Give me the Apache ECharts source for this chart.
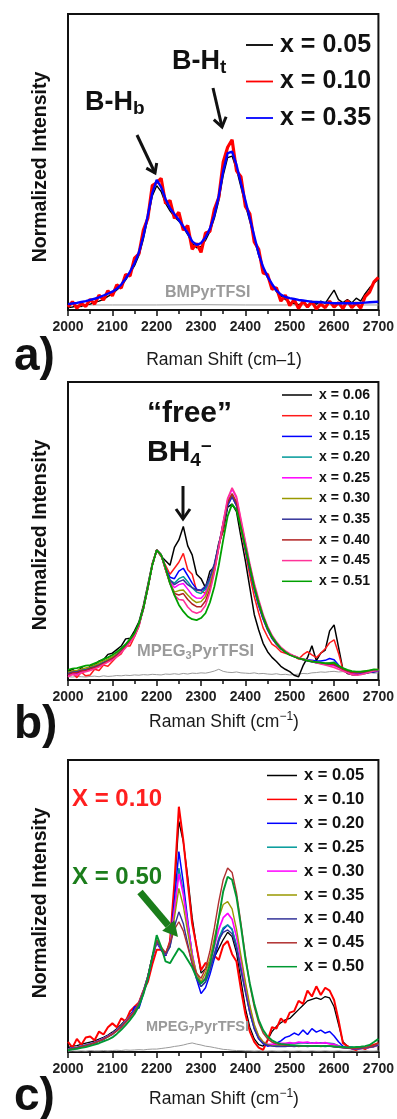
<!DOCTYPE html>
<html>
<head>
<meta charset="utf-8">
<script src="https://cdn.jsdelivr.net/npm/echarts@6/dist/echarts.min.js"></script>
<style>
  html, body { margin: 0; padding: 0; background: #fff; }
  #chart { width: 397px; height: 1119px; }
</style>
</head>
<body>
<div id="chart"></div>
<script>
// Raman shift grid (cm^-1), shared by every spectrum
const shift = [
  2000, 2010, 2020, 2030, 2040, 2050, 2060, 2070, 2080, 2090,
  2100, 2110, 2120, 2130, 2140, 2150, 2160, 2170, 2180, 2190,
  2200, 2210, 2220, 2230, 2240, 2250, 2260, 2270, 2280, 2290,
  2300, 2310, 2320, 2330, 2340, 2350, 2360, 2370, 2380, 2390,
  2400, 2410, 2420, 2430, 2440, 2450, 2460, 2470, 2480, 2490,
  2500, 2510, 2520, 2530, 2540, 2550, 2560, 2570, 2580, 2590,
  2600, 2610, 2620, 2630, 2640, 2650, 2660, 2670, 2680, 2690,
  2700
];
const xRange = [2000, 2700];
const xStep = 100;

// ---- a) LiBH4 in BMPyrTFSI ----
const aLegend = ['x = 0.05', 'x = 0.10', 'x = 0.35'];
const aBaseShift = [2000, 2100, 2200, 2300, 2400, 2500, 2600, 2700];
const aBase = [1.7, 1.7, 1.7, 1.8, 1.7, 1.7, 1.7, 1.7];
const a005 = [
  0.8, 1.0, 1.4, 1.2, 1.8, 2.0, 2.6, 3.0, 3.6, 4.6,
  5.4, 6.8, 8.0, 10.2, 12.5, 15.0, 18.5, 24.0, 31.0, 38.5,
  42.0, 40.0, 36.0, 33.5, 31.5, 30.0, 28.0, 25.5, 22.5, 21.0,
  21.5, 23.5, 26.5, 31.0, 37.0, 45.5, 51.5, 52.0, 47.5, 41.5,
  35.5, 30.0, 24.0, 18.5, 14.0, 11.0, 8.5, 6.2, 4.8, 3.6,
  2.6, 2.2, 1.8, 2.4, 1.6, 2.6, 2.0, 3.0, 2.2, 4.5,
  6.7, 3.5, 2.5, 3.5, 2.4, 4.0, 3.0, 5.5, 7.5, 9.0,
  10.5
];
const a010 = [
  1.0, 2.8, 0.6, 2.2, 1.2, 3.6, 2.0, 5.0, 3.4, 6.5,
  4.8, 8.5, 7.4, 12.0, 11.5, 17.5, 19.0, 27.0, 31.0, 42.0,
  43.0, 44.5, 36.0, 37.0, 31.0, 33.0, 27.0, 28.5, 20.5, 22.5,
  19.5, 26.0, 26.5, 34.0, 38.0, 50.0, 55.0, 57.5, 47.0, 45.0,
  35.0, 32.5, 23.0, 20.5, 12.5, 12.0, 7.0, 7.5, 3.0, 5.0,
  1.5, 3.5, 0.5, 3.0, 1.0, 2.8, 0.4, 2.0, 0.8, 3.0,
  1.0, 2.5, 0.5, 3.2, 0.8, 2.4, 0.6, 4.5, 6.0, 9.5,
  11.0
];
const a035 = [
  2.0, 2.2, 2.4, 2.7, 3.0, 3.4, 3.8, 4.3, 4.9, 5.5,
  6.2, 7.2, 8.6, 10.6, 13.0, 15.8, 19.5, 25.0, 32.0, 39.5,
  44.0, 41.5, 37.5, 34.4, 32.4, 30.4, 28.2, 26.0, 23.2, 22.0,
  22.6, 24.5, 27.5, 32.0, 38.5, 47.0, 53.0, 53.5, 49.0, 42.8,
  37.0, 31.0, 25.0, 19.0, 14.5, 11.3, 8.8, 6.6, 5.2, 4.4,
  4.0, 3.7, 3.4, 3.2, 3.0, 2.8, 2.7, 2.6, 2.5, 2.4,
  2.3, 2.3, 2.3, 2.3, 2.3, 2.3, 2.4, 2.5, 2.6, 2.7,
  2.8
];

// ---- b) LiBH4 in MPEG3PyrTFSI ----
const bLegend = ['x = 0.06', 'x = 0.10', 'x = 0.15', 'x = 0.20', 'x = 0.25',
                 'x = 0.30', 'x = 0.35', 'x = 0.40', 'x = 0.45', 'x = 0.51'];
const bBase = [
  1.1, 1.0, 1.2, 1.1, 1.0, 1.2, 1.3, 1.1, 1.4, 1.2,
  1.3, 1.5, 1.4, 1.6, 1.5, 1.7, 1.6, 1.8, 1.7, 1.9,
  1.8, 1.7, 2.0, 1.9, 2.1, 1.9, 2.2, 2.0, 2.3, 2.2,
  2.4, 2.3, 2.6, 3.0, 3.6, 2.9, 2.6, 2.5, 2.7, 2.4,
  2.3, 2.2, 2.4, 2.1, 2.2, 2.0, 1.9, 2.1, 1.8, 1.9,
  1.7, 1.8, 2.0, 2.2, 2.1, 2.4, 2.5, 2.7, 2.6, 2.8,
  2.9, 2.7, 2.8, 2.6, 2.7, 2.5, 2.6, 2.4, 2.5, 2.3,
  2.4
];
const b006 = [
  2.8, 3.6, 2.4, 4.2, 3.2, 4.6, 5.0, 6.4, 6.8, 8.6,
  9.0, 10.2, 11.4, 13.8, 14.0, 16.5, 19.5, 25.0, 32.0, 39.0,
  43.6, 41.5, 40.0, 38.5, 44.5, 47.0, 51.5, 45.0, 42.0, 35.5,
  34.0, 31.0, 36.5, 38.0, 46.0, 50.0, 58.0, 59.0, 56.5, 48.0,
  40.0, 31.0, 22.0, 16.8, 12.3, 9.5, 7.6, 6.2, 4.6, 3.6,
  2.8, 1.6, 1.1, 4.8, 7.5, 11.5, 6.5, 9.0, 10.0, 16.5,
  18.5, 11.0, 3.5, 2.2, 1.8, 1.7, 2.0, 2.2, 2.5, 2.8,
  3.0
];
const b010 = [
  1.1, 2.4, 0.8, 2.6, 1.4, 1.7, 3.6, 3.2, 5.0, 4.6,
  6.2, 7.8, 8.8, 11.5, 11.4, 14.5, 18.0, 24.5, 30.5, 39.0,
  43.6, 41.5, 38.5, 35.5, 37.5, 39.5, 42.5, 37.0, 35.5, 30.0,
  30.0, 29.0, 34.0, 36.5, 45.0, 50.5, 60.0, 61.5, 60.0, 50.5,
  43.0, 35.0, 28.0, 22.5, 17.5, 14.5, 12.0, 11.0, 9.5, 9.0,
  8.5, 8.0, 7.0, 8.5, 9.5, 8.4, 7.5, 9.0, 10.5, 12.5,
  13.5, 9.0, 3.4, 2.6, 2.2, 2.0, 2.4, 2.6, 2.8, 3.0,
  3.2
];
const b015 = [
  2.0, 2.6, 2.2, 3.0, 3.2, 3.8, 4.4, 5.0, 5.8, 6.6,
  7.4, 8.4, 9.8, 11.4, 13.2, 15.0, 18.6, 24.2, 31.0, 38.5,
  43.6, 42.0, 37.5, 34.5, 34.0, 36.5, 37.5, 35.0, 32.5, 30.5,
  30.0, 31.0, 34.0, 38.5, 45.0, 52.0, 58.5, 61.5, 58.5, 51.5,
  44.0, 37.0, 30.5, 25.0, 20.5, 17.0, 14.0, 12.0, 10.5, 9.4,
  8.6, 8.0, 7.4, 7.0, 6.8, 6.6, 6.4, 6.4, 6.6, 7.2,
  6.8, 5.0, 3.6, 3.0, 2.6, 2.6, 2.2, 2.4, 2.6, 2.8,
  3.0
];
const b020 = [
  2.4, 2.8, 3.0, 3.4, 3.6, 4.2, 4.6, 5.4, 6.0, 6.8,
  7.6, 8.6, 10.0, 11.6, 13.4, 15.2, 18.8, 24.0, 31.0, 38.5,
  43.6, 42.0, 37.5, 33.5, 32.5, 34.0, 34.7, 33.0, 31.0, 29.5,
  29.0, 30.5, 33.5, 38.0, 45.0, 52.5, 59.0, 62.0, 59.0, 52.0,
  44.5, 37.5, 31.0, 25.5, 21.0, 17.2, 14.2, 12.2, 10.6, 9.5,
  8.6, 8.0, 7.4, 7.0, 6.6, 6.3, 6.0, 5.8, 5.6, 5.8,
  6.0, 4.8, 3.8, 3.2, 2.8, 2.6, 2.6, 2.8, 3.0, 3.2,
  3.4
];
const b025 = [
  1.6, 2.2, 2.0, 2.8, 3.0, 3.4, 4.0, 4.6, 5.4, 6.2,
  7.0, 8.2, 9.6, 11.2, 13.0, 15.0, 18.5, 24.0, 31.0, 38.5,
  43.6, 42.0, 37.0, 33.0, 31.0, 32.0, 32.4, 30.5, 28.5, 27.5,
  27.4, 29.0, 32.5, 37.5, 45.0, 53.0, 60.5, 64.0, 61.0, 53.5,
  46.0, 38.5, 32.0, 26.5, 21.5, 17.8, 14.8, 12.6, 10.8, 9.6,
  8.7, 8.0, 7.4, 6.9, 6.5, 6.2, 5.8, 5.5, 5.2, 5.0,
  4.8, 4.2, 3.5, 2.8, 2.4, 2.2, 2.4, 2.6, 2.8, 3.0,
  3.2
];
const b030 = [
  2.6, 3.0, 3.2, 3.6, 4.0, 4.4, 5.0, 5.6, 6.4, 7.0,
  7.8, 8.8, 10.2, 11.8, 13.6, 15.4, 18.8, 24.2, 31.0, 38.5,
  43.6, 42.0, 37.0, 32.5, 29.5, 30.0, 30.2, 28.5, 27.0, 26.0,
  26.3, 28.0, 32.0, 37.5, 45.0, 52.5, 59.5, 62.5, 59.5, 52.5,
  45.0, 38.0, 31.5, 26.0, 21.2, 17.5, 14.5, 12.4, 10.7, 9.5,
  8.6, 8.0, 7.4, 7.0, 6.6, 6.3, 6.0, 5.8, 5.6, 5.6,
  5.4, 4.6, 3.8, 3.2, 2.8, 2.7, 2.8, 3.0, 3.2, 3.4,
  3.6
];
const b035 = [
  2.2, 2.6, 2.8, 3.2, 3.4, 4.0, 4.4, 5.0, 5.8, 6.4,
  7.2, 8.4, 9.8, 11.4, 13.2, 15.0, 18.6, 24.0, 31.0, 38.5,
  43.6, 42.0, 37.5, 33.5, 32.0, 33.0, 33.6, 32.0, 31.0, 30.2,
  30.2, 31.5, 34.5, 39.0, 45.5, 52.5, 59.0, 61.5, 58.5, 51.5,
  44.0, 37.0, 30.5, 25.0, 20.5, 16.8, 14.0, 12.0, 10.4, 9.3,
  8.5, 7.9, 7.3, 6.8, 6.4, 6.1, 5.8, 5.6, 5.4, 5.4,
  5.2, 4.4, 3.6, 3.0, 2.6, 2.4, 2.4, 2.6, 2.8, 3.0,
  3.2
];
const b040 = [
  1.8, 2.4, 2.4, 3.0, 3.2, 3.8, 4.2, 4.8, 5.6, 6.4,
  7.2, 8.2, 9.6, 11.2, 13.0, 15.0, 18.5, 24.0, 31.0, 38.5,
  43.6, 42.0, 37.0, 32.5, 29.0, 28.5, 29.0, 27.0, 25.5, 24.6,
  24.6, 26.5, 30.5, 36.5, 44.5, 52.5, 59.5, 62.5, 59.5, 52.5,
  45.0, 38.0, 31.5, 26.0, 21.2, 17.5, 14.5, 12.3, 10.6, 9.4,
  8.5, 7.9, 7.3, 6.9, 6.5, 6.2, 5.9, 5.6, 5.4, 5.4,
  5.2, 4.4, 3.6, 3.0, 2.6, 2.5, 2.6, 2.8, 3.0, 3.2,
  3.4
];
const b045 = [
  1.1, 1.8, 1.6, 2.4, 2.8, 3.2, 3.8, 4.4, 5.2, 6.0,
  6.7, 7.8, 9.2, 10.8, 12.6, 14.6, 18.2, 23.8, 31.0, 38.5,
  43.6, 42.0, 37.0, 32.5, 28.5, 27.0, 26.8, 24.5, 23.0, 22.4,
  23.0, 25.0, 29.5, 36.0, 44.5, 53.0, 61.0, 64.5, 61.5, 54.0,
  46.5, 39.0, 32.5, 27.0, 22.0, 18.0, 15.0, 12.8, 11.0, 9.8,
  8.8, 8.1, 7.5, 7.0, 6.6, 6.2, 5.8, 5.4, 5.0, 4.6,
  4.2, 3.6, 3.0, 2.4, 1.8, 1.6, 1.8, 2.2, 2.6, 3.0,
  3.2
];
const b051 = [
  3.4, 3.8, 4.0, 4.4, 4.8, 5.0, 5.6, 6.2, 7.0, 7.6,
  8.4, 9.4, 10.6, 12.0, 13.8, 15.7, 19.0, 24.0, 31.0, 38.5,
  43.6, 42.0, 37.5, 32.4, 28.5, 25.2, 23.0, 21.3, 20.4, 20.1,
  20.8, 22.4, 26.0, 31.3, 38.5, 47.0, 55.0, 59.0, 57.0, 51.0,
  44.7, 38.0, 31.3, 26.0, 21.3, 17.5, 14.5, 12.4, 10.6, 9.4,
  8.4, 7.8, 7.3, 6.9, 6.5, 6.2, 6.0, 5.8, 5.6, 5.6,
  5.8, 4.8, 4.0, 3.4, 3.0, 2.8, 2.8, 3.0, 3.2, 3.6,
  3.4
];

// ---- c) LiBH4 in MPEG7PyrTFSI ----
const cLegend = ['x = 0.05', 'x = 0.10', 'x = 0.20', 'x = 0.25', 'x = 0.30',
                 'x = 0.35', 'x = 0.40', 'x = 0.45', 'x = 0.50'];
const cBase = [
  0.3, 0.4, 0.3, 0.4, 0.3, 0.5, 0.4, 0.4, 0.5, 0.4,
  0.5, 0.6, 0.5, 0.7, 0.6, 0.7, 0.8, 0.7, 0.9, 1.0,
  1.0, 1.2, 1.4, 1.6, 1.9, 2.1, 2.4, 2.8, 3.1, 2.7,
  2.4, 2.0, 1.8, 1.5, 1.2, 0.9, 0.8, 0.6, 0.5, 0.5,
  0.4, 0.4, 0.3, 0.4, 0.3, 0.3, 0.4, 0.3, 0.3, 0.4,
  0.3, 0.3, 0.4, 0.3, 0.3, 0.4, 0.3, 0.3, 0.4, 0.3,
  0.3, 0.4, 0.3, 0.3, 0.4, 0.3, 0.3, 0.4, 0.3, 0.3,
  0.4
];
const c005 = [
  1.5, 2.0, 2.2, 2.6, 3.0, 3.4, 3.8, 4.4, 5.0, 5.8,
  6.8, 8.0, 9.4, 11.0, 12.8, 14.5, 17.0, 21.0, 26.0, 32.5,
  37.5, 35.5, 33.0, 37.0, 56.0, 79.0, 72.0, 60.0, 46.0, 36.0,
  27.0, 28.5, 30.5, 32.5, 35.5, 38.5, 41.0, 39.5, 34.0, 24.5,
  15.0, 8.5, 4.5, 2.5, 2.0, 4.0, 7.0, 8.8, 10.0, 11.0,
  11.5, 13.0, 14.5, 16.0, 17.5, 18.0, 18.5, 18.0, 19.0, 18.5,
  15.5, 9.5, 3.5, 2.0, 1.5, 1.2, 1.2, 1.4, 1.8, 2.2,
  2.8
];
const c010 = [
  3.5, 1.5, 4.5, 2.5, 5.0, 5.3, 4.0, 7.0, 6.0, 8.5,
  9.8, 8.5, 11.5, 10.5, 14.0, 15.5, 17.0, 21.0, 24.0, 30.0,
  35.0, 35.0, 33.0, 38.0, 58.0, 84.0, 72.5, 58.0, 44.0, 36.0,
  28.0, 30.5, 29.5, 33.0, 31.5, 36.5, 38.0, 33.5, 31.0, 21.5,
  13.0, 7.0, 3.5, 1.5, 0.7, 4.0, 8.5, 8.0, 11.5, 10.0,
  13.5, 14.0, 17.5, 16.5, 21.0, 19.0, 22.5, 19.5, 22.0, 21.0,
  17.8, 11.0, 3.0, 2.0, 1.2, 0.7, 1.5, 1.0, 2.0, 2.5,
  3.0
];
const c020 = [
  1.0, 1.4, 1.2, 2.0, 2.2, 2.8, 3.0, 3.8, 4.2, 5.4,
  6.0, 7.6, 8.4, 10.6, 11.8, 15.5, 15.0, 20.0, 25.0, 32.0,
  37.5, 35.0, 33.0, 36.5, 52.0, 68.6, 58.0, 45.0, 33.0, 25.0,
  20.0, 22.0, 26.5, 32.0, 38.0, 42.0, 43.5, 42.0, 36.0, 28.5,
  21.0, 13.5, 8.0, 4.5, 2.8, 2.0, 2.4, 3.0, 3.8, 5.0,
  5.5, 6.5, 5.8, 7.5, 6.0, 8.0, 6.8, 7.5, 6.5, 7.0,
  5.5, 3.5, 2.0, 1.5, 1.2, 1.0, 1.2, 1.4, 1.6, 2.0,
  2.5
];
const c025 = [
  1.0, 1.3, 1.6, 2.0, 2.4, 2.8, 3.3, 4.0, 4.7, 5.5,
  6.4, 7.6, 9.0, 10.6, 12.4, 14.2, 16.8, 20.8, 26.0, 32.5,
  38.0, 35.5, 33.5, 36.0, 49.0, 63.0, 55.0, 44.0, 33.5, 26.0,
  22.4, 24.0, 28.0, 33.5, 39.0, 42.5, 43.5, 42.0, 36.5, 29.0,
  21.5, 14.0, 8.5, 5.0, 3.2, 2.4, 2.2, 2.2, 2.4, 2.6,
  2.8, 3.0, 3.0, 3.2, 3.0, 3.2, 3.0, 3.2, 3.0, 3.0,
  2.8, 2.2, 1.6, 1.4, 1.8, 1.2, 1.2, 1.4, 1.6, 2.0,
  2.8
];
const c030 = [
  0.8, 1.2, 1.5, 1.9, 2.3, 2.7, 3.2, 3.9, 4.6, 5.4,
  6.3, 7.4, 8.8, 10.4, 12.2, 14.0, 16.6, 20.6, 25.8, 32.5,
  38.0, 35.5, 33.5, 36.5, 48.5, 61.0, 54.0, 43.5, 33.5, 26.5,
  23.5, 25.5, 30.0, 36.0, 42.0, 46.0, 47.5, 45.5, 39.5, 31.5,
  23.0, 15.0, 9.0, 5.2, 3.4, 2.6, 2.6, 2.8, 3.0, 3.0,
  3.2, 3.0, 3.4, 3.2, 3.4, 3.0, 3.2, 3.0, 3.2, 2.8,
  2.6, 2.0, 1.6, 1.4, 1.2, 1.2, 1.2, 1.4, 1.6, 1.8,
  2.4
];
const c035 = [
  0.8, 1.1, 1.4, 1.8, 2.2, 2.6, 3.1, 3.7, 4.4, 5.2,
  6.1, 7.2, 8.6, 10.2, 12.0, 13.8, 16.4, 20.4, 25.6, 32.5,
  38.0, 35.5, 33.5, 36.5, 46.0, 56.0, 50.0, 41.0, 32.5, 27.0,
  24.0, 27.0, 32.0, 39.0, 46.0, 50.5, 51.5, 49.0, 42.0, 33.0,
  24.0, 16.0, 9.5, 5.5, 3.5, 2.5, 2.2, 2.0, 2.0, 2.0,
  2.0, 2.1, 1.9, 2.0, 2.2, 2.0, 2.1, 1.9, 2.0, 2.1,
  1.9, 1.7, 1.5, 1.4, 1.3, 1.2, 1.3, 1.4, 1.6, 1.9,
  2.4
];
const c040 = [
  0.9, 1.2, 1.5, 1.9, 2.3, 2.7, 3.2, 3.8, 4.5, 5.3,
  6.2, 7.3, 8.7, 10.3, 12.1, 14.0, 16.6, 20.6, 25.8, 32.5,
  38.0, 35.5, 33.5, 36.0, 43.0, 48.0, 44.0, 37.0, 30.0, 25.0,
  22.4, 24.0, 28.0, 33.5, 38.5, 41.0, 41.8, 40.5, 35.5, 28.0,
  20.5, 13.5, 8.0, 4.6, 3.0, 2.3, 2.0, 1.9, 1.9, 1.9,
  2.0, 1.9, 2.0, 2.1, 1.9, 2.0, 2.1, 2.0, 1.9, 2.0,
  1.8, 1.6, 1.4, 1.3, 1.2, 1.2, 1.3, 1.4, 1.6, 1.9,
  2.4
];
const c045 = [
  0.8, 1.1, 1.4, 1.8, 2.2, 2.6, 3.1, 3.7, 4.4, 5.2,
  6.1, 7.2, 8.6, 10.2, 12.0, 13.8, 16.4, 20.4, 25.6, 32.5,
  38.5, 36.0, 34.0, 37.5, 42.0, 44.6, 41.5, 36.0, 30.5, 27.0,
  25.2, 28.5, 34.5, 42.5, 51.5, 59.0, 63.0, 61.5, 54.5, 44.0,
  33.0, 23.0, 15.5, 10.0, 6.5, 4.5, 3.4, 2.8, 2.5, 2.3,
  2.2, 2.2, 2.1, 2.2, 2.0, 2.1, 2.2, 2.0, 2.1, 2.0,
  1.9, 1.7, 1.5, 1.4, 1.3, 1.3, 1.4, 1.5, 1.8, 2.2,
  3.0
];
const c050 = [
  0.6, 0.9, 1.1, 1.4, 1.7, 2.1, 2.5, 3.0, 3.6, 4.2,
  5.0, 6.2, 7.6, 9.2, 11.0, 13.0, 15.8, 19.8, 25.2, 32.5,
  40.0, 36.0, 31.0, 30.4, 33.0, 35.5, 34.0, 31.5, 29.0, 25.5,
  23.5, 25.0, 30.0, 37.0, 46.0, 55.0, 60.0, 59.0, 53.0, 43.0,
  32.0, 23.5, 16.5, 11.0, 7.5, 5.3, 4.0, 3.2, 2.8, 2.6,
  2.4, 2.3, 2.2, 2.1, 2.1, 2.0, 2.1, 2.0, 2.1, 2.0,
  1.9, 1.8, 1.7, 1.6, 1.6, 1.7, 1.8, 2.0, 2.4, 3.4,
  4.5
];

// ---------------------------------------------------------------------------
const FONT = "'Liberation Sans', Arial, Helvetica, sans-serif";
const INK = '#111';
const GREY = '#9a9a9a';

const panels = [
  { key: 'a', grid: { left: 68, top: 14, width: 312, height: 296 },
    base: { x: aBaseShift, y: aBase, name: 'BMPyrTFSI' },
    series: [
      { label: aLegend[0], y: a005, color: '#000000', width: 1.4 },
      { label: aLegend[1], y: a010, color: '#ff0000', width: 3.2 },
      { label: aLegend[2], y: a035, color: '#0000ff', width: 2.4 }
    ],
    legend: { left: 246, top: 31, itemWidth: 27, fontSize: 25, lineHeight: 28, gap: 8.5, mark: 1.8 } },
  { key: 'b', grid: { left: 68, top: 382, width: 312, height: 298 },
    base: { x: shift, y: bBase, name: 'MPEG3PyrTFSI' },
    series: [
      { label: bLegend[0], y: b006, color: '#000000', width: 1.5 },
      { label: bLegend[1], y: b010, color: '#ff1a1a', width: 1.5 },
      { label: bLegend[2], y: b015, color: '#0000ff', width: 1.5 },
      { label: bLegend[3], y: b020, color: '#009999', width: 1.5 },
      { label: bLegend[4], y: b025, color: '#ff00ff', width: 1.5 },
      { label: bLegend[5], y: b030, color: '#999900', width: 1.5 },
      { label: bLegend[6], y: b035, color: '#333399', width: 1.5 },
      { label: bLegend[7], y: b040, color: '#b22222', width: 1.5 },
      { label: bLegend[8], y: b045, color: '#ff3399', width: 1.6 },
      { label: bLegend[9], y: b051, color: '#00a000', width: 1.8 }
    ],
    legend: { left: 282, top: 387, itemWidth: 30, fontSize: 14, lineHeight: 16, gap: 4.7, mark: 1.5 } },
  { key: 'c', grid: { left: 68, top: 760, width: 312, height: 292 },
    base: { x: shift, y: cBase, name: 'MPEG7PyrTFSI' },
    series: [
      { label: cLegend[0], y: c005, color: '#000000', width: 1.3 },
      { label: cLegend[1], y: c010, color: '#ff0000', width: 2.0 },
      { label: cLegend[2], y: c020, color: '#0000ff', width: 1.5 },
      { label: cLegend[3], y: c025, color: '#009999', width: 1.5 },
      { label: cLegend[4], y: c030, color: '#ff00ff', width: 1.7 },
      { label: cLegend[5], y: c035, color: '#999900', width: 1.4 },
      { label: cLegend[6], y: c040, color: '#333399', width: 1.4 },
      { label: cLegend[7], y: c045, color: '#b03030', width: 1.4 },
      { label: cLegend[8], y: c050, color: '#009933', width: 1.9 }
    ],
    legend: { left: 267, top: 766, itemWidth: 30, fontSize: 16.5, lineHeight: 19, gap: 4.9, mark: 1.5 } }
];

function pairs(xs, ys) { return ys.map((v, i) => [xs[i], v]); }

const grid = [], xAxis = [], yAxis = [], series = [], legend = [];
panels.forEach((p, gi) => {
  grid.push(Object.assign({ show: true, borderColor: INK, borderWidth: 2, backgroundColor: 'transparent' }, p.grid));
  xAxis.push({
    type: 'value', gridIndex: gi, min: xRange[0], max: xRange[1], interval: xStep,
    axisLine: { show: true, onZero: false, lineStyle: { color: INK, width: 2 } },
    axisTick: { show: true, inside: false, length: 6, lineStyle: { color: INK, width: 1.5 } },
    minorTick: { show: true, splitNumber: 2, length: 4, lineStyle: { color: INK, width: 1.5 } },
    splitLine: { show: false }, minorSplitLine: { show: false },
    axisLabel: { fontFamily: FONT, fontSize: 14, fontWeight: 'bold', color: '#222', margin: 10,
                 formatter: v => String(v) }
  });
  yAxis.push({
    type: 'value', gridIndex: gi, min: 0, max: 100,
    axisLine: { show: false }, axisTick: { show: false }, axisLabel: { show: false }, splitLine: { show: false }
  });
  series.push({
    type: 'line', name: p.key + '|' + p.base.name, xAxisIndex: gi, yAxisIndex: gi,
    data: pairs(p.base.x, p.base.y), symbol: 'none', z: 1,
    lineStyle: { color: GREY, width: 1 }, itemStyle: { color: GREY }
  });
  const names = [];
  p.series.forEach((s, si) => {
    const nm = p.key + '|' + s.label;
    names.push(nm);
    series.push({
      type: 'line', name: nm, xAxisIndex: gi, yAxisIndex: gi,
      data: pairs(shift, s.y), symbol: 'none', z: 2 + si,
      lineStyle: { color: s.color, width: s.width }, itemStyle: { color: s.color }
    });
  });
  const L = p.legend;
  legend.push({
    data: names, orient: 'vertical', left: L.left, top: L.top, padding: 0,
    icon: 'rect', itemWidth: L.itemWidth, itemHeight: L.mark, itemGap: L.gap, selectedMode: false,
    formatter: n => n.split('|')[1],
    textStyle: { fontFamily: FONT, fontSize: L.fontSize, fontWeight: 'bold', color: INK, lineHeight: L.lineHeight, padding: [0, 0, 0, 2] }
  });
});

// text helpers for the drawn annotations
function txt(x, y, text, size, opts) {
  opts = opts || {};
  return {
    type: 'text', x: x, y: y, z: 50, silent: true, rotation: opts.rotation || 0,
    style: {
      text: text, fill: opts.fill || INK, align: opts.align || 'left', verticalAlign: 'middle',
      font: (opts.weight || 'bold') + ' ' + size + 'px ' + FONT
    }
  };
}
function rich(x, y, text, richStyles, fill, align) {
  return {
    type: 'text', x: x, y: y, z: 50, silent: true,
    style: { text: text, rich: richStyles, fill: fill || INK, align: align || 'left', verticalAlign: 'top' }
  };
}
function f(w, size) { return w + ' ' + size + 'px ' + FONT; }
function chevronArrow(x1, y1, x2, y2, hx1, hy1, hx2, hy2, width) {
  return [
    { type: 'line', z: 50, silent: true, shape: { x1: x1, y1: y1, x2: x2, y2: y2 }, style: { stroke: INK, lineWidth: width, lineCap: 'butt' } },
    { type: 'polyline', z: 50, silent: true, shape: { points: [[hx1, hy1], [x2, y2], [hx2, hy2]] }, style: { stroke: INK, lineWidth: width, fill: null, lineJoin: 'miter' } }
  ];
}
const sup = {
  m: { font: f('normal', 17.5), lineHeight: 22, fill: '#1a1a1a' },
  s: { font: f('normal', 12), lineHeight: 12, verticalAlign: 'top', fill: '#1a1a1a' }
};

const graphic = [
  // y-axis titles
  txt(41, 167, 'Normalized Intensity', 19.5, { align: 'center', rotation: Math.PI / 2 }),
  txt(41, 535, 'Normalized Intensity', 19.5, { align: 'center', rotation: Math.PI / 2 }),
  txt(41, 903, 'Normalized Intensity', 19.5, { align: 'center', rotation: Math.PI / 2 }),
  // x-axis titles
  txt(224, 360, 'Raman Shift (cm\u20131)', 17.5, { align: 'center', weight: 'normal', fill: '#1a1a1a' }),
  rich(224, 711, '{m|Raman Shift (cm}{s|\u22121}{m|)}', sup, '#1a1a1a', 'center'),
  rich(224, 1088, '{m|Raman Shift (cm}{s|\u22121}{m|)}', sup, '#1a1a1a', 'center'),
  // panel letters
  txt(14, 357, 'a)', 46),
  txt(14, 725, 'b)', 46),
  txt(14, 1097, 'c)', 46),

  // a) band assignments
  rich(85, 88, '{m|B-H}{s|b}', {
    m: { font: f('bold', 27), lineHeight: 30 },
    s: { font: f('bold', 19), lineHeight: 15, verticalAlign: 'bottom' }
  }),
  rich(172, 47, '{m|B-H}{s|t}', {
    m: { font: f('bold', 27), lineHeight: 30 },
    s: { font: f('bold', 19), lineHeight: 15, verticalAlign: 'bottom' }
  }),
  ...chevronArrow(137, 135, 155, 173, 156.7, 163.1, 146.3, 168.1, 3),
  ...chevronArrow(213, 88, 222, 127, 226.1, 116.8, 213.8, 119.6, 3),
  txt(165, 293, 'BMPyrTFSI', 16, { fill: GREY }),

  // b) free borohydride
  txt(147, 414, '\u201cfree\u201d', 30),
  rich(147, 436, '{m|BH}{s|4}{p|\u2013}', {
    m: { font: f('bold', 30), lineHeight: 34 },
    s: { font: f('bold', 19), lineHeight: 16, verticalAlign: 'bottom' },
    p: { font: f('bold', 19), lineHeight: 24, verticalAlign: 'top' }
  }),
  ...chevronArrow(183, 486, 183, 519, 176, 509, 190, 509, 3),
  rich(137, 641, '{m|MPEG}{s|3}{m|PyrTFSI}', {
    m: { font: f('bold', 16.5), lineHeight: 20, fill: GREY },
    s: { font: f('bold', 11), lineHeight: 10, verticalAlign: 'bottom', fill: GREY }
  }, GREY),

  // c) composition call-outs
  txt(72, 799, 'X = 0.10', 24, { fill: '#ff1f1f' }),
  txt(72, 877, 'X = 0.50', 24, { fill: '#1b7d1b' }),
  { type: 'line', z: 50, silent: true, shape: { x1: 140, y1: 892, x2: 168.3, y2: 925.5 }, style: { stroke: '#1b7d1b', lineWidth: 7 } },
  { type: 'polygon', z: 50, silent: true, shape: { points: [[178, 937], [162.2, 930.7], [174.4, 920.3]] }, style: { fill: '#1b7d1b' } },
  rich(146, 1018, '{m|MPEG}{s|7}{m|PyrTFSI}', {
    m: { font: f('bold', 14.5), lineHeight: 18, fill: GREY },
    s: { font: f('bold', 10), lineHeight: 9, verticalAlign: 'bottom', fill: GREY }
  }, GREY)
];

const chart = echarts.init(document.getElementById('chart'), null, { renderer: 'canvas' });
chart.setOption({
  animation: false,
  backgroundColor: '#ffffff',
  grid: grid, xAxis: xAxis, yAxis: yAxis, series: series, legend: legend,
  graphic: graphic
});
</script>
</body>
</html>
